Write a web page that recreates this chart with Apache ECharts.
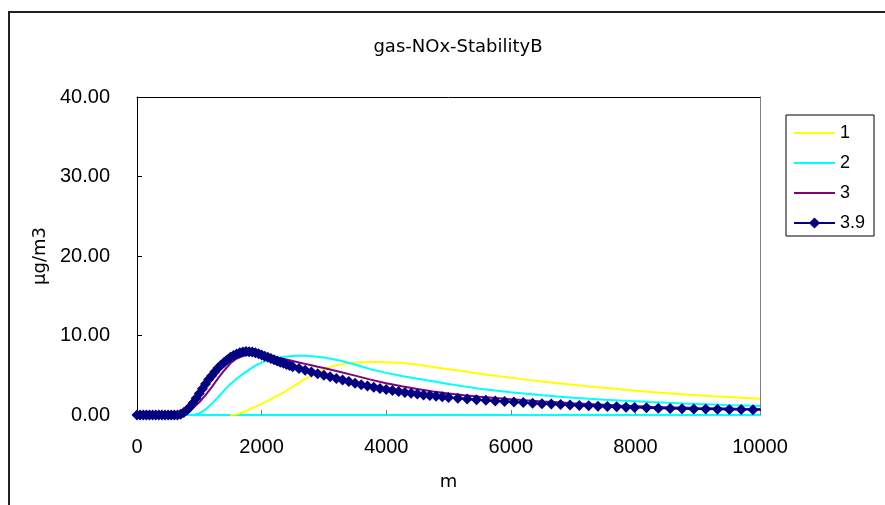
<!DOCTYPE html>
<html>
<head>
<meta charset="utf-8">
<script src="https://cdn.jsdelivr.net/npm/echarts@6/dist/echarts.min.js"></script>
<style>
  html, body { margin: 0; padding: 0; background: #fff; }
  #chart { width: 885px; height: 505px; }
</style>
</head>
<body>
<div id="chart"></div>
<script>
// Ground-level NOx concentration (μg/m3) against downwind distance (m), stability class B,
// one curve per wind-speed case.
const chartTitle = 'gas-NOx-StabilityB';
const seriesNames = ['1', '2', '3', '3.9'];
const xTicks = { min: 0, max: 10000, interval: 2000 };
const yTicks = { min: 0, max: 40, interval: 10 };

// Case "1"
const dist1 = [1500, 1600, 1700, 1800, 1900, 2000, 2100, 2200, 2300, 2400,
  2500, 2600, 2700, 2800, 2900, 3000, 3100, 3200, 3300, 3400,
  3500, 3600, 3700, 3800, 3900, 4000, 4250, 4500, 4750, 5000,
  5250, 5500, 5750, 6000, 6250, 6500, 6750, 7000, 7250, 7500,
  7750, 8000, 8250, 8500, 8750, 9000, 9250, 9500, 9750, 10000];
const conc1 = [0, 0.1, 0.35, 0.7, 1.05, 1.4, 1.78, 2.2, 2.6, 3.05,
  3.55, 4.05, 4.55, 5.0, 5.4, 5.75, 6.05, 6.25, 6.4, 6.5,
  6.57, 6.62, 6.65, 6.67, 6.67, 6.65, 6.55, 6.35, 6.05, 5.75,
  5.5, 5.2, 4.95, 4.7, 4.45, 4.2, 4.0, 3.8, 3.6, 3.42,
  3.25, 3.05, 2.9, 2.75, 2.6, 2.48, 2.36, 2.25, 2.15, 2.05];

// Case "2"
const dist2 = [900, 1000, 1100, 1200, 1300, 1400, 1500, 1600, 1700, 1800,
  1900, 2000, 2100, 2200, 2300, 2400, 2500, 2600, 2700, 2800,
  2900, 3000, 3250, 3500, 3750, 4000, 4250, 4500, 4750, 5000,
  5250, 5500, 5750, 6000, 6250, 6500, 6750, 7000, 7250, 7500,
  7750, 8000, 8250, 8500, 8750, 9000, 9250, 9500, 9750, 10000];
const conc2 = [0, 0.2, 0.7, 1.4, 2.2, 3.1, 3.9, 4.55, 5.15, 5.7,
  6.2, 6.6, 6.9, 7.12, 7.27, 7.37, 7.43, 7.45, 7.45, 7.4,
  7.33, 7.22, 6.85, 6.35, 5.75, 5.3, 4.9, 4.55, 4.25, 3.9,
  3.6, 3.3, 3.07, 2.86, 2.66, 2.48, 2.32, 2.18, 2.05, 1.93,
  1.82, 1.72, 1.62, 1.53, 1.45, 1.38, 1.31, 1.24, 1.18, 1.12];

// Case "3"
const dist3 = [600, 700, 800, 900, 1000, 1100, 1200, 1300, 1400, 1500,
  1600, 1700, 1800, 1900, 2000, 2100, 2200, 2300, 2400, 2500,
  2600, 2700, 2800, 2900, 3000, 3250, 3500, 3750, 4000, 4250,
  4500, 4750, 5000, 5250, 5500, 5750, 6000, 6250, 6500, 6750,
  7000, 7250, 7500, 7750, 8000, 8250, 8500, 8750, 9000, 9250,
  9500, 9750, 10000];
const conc3 = [0, 0.05, 0.35, 0.9, 1.6, 2.5, 3.5, 4.6, 5.6, 6.5,
  7.1, 7.45, 7.65, 7.7, 7.65, 7.5, 7.33, 7.15, 6.97, 6.79,
  6.61, 6.43, 6.25, 6.07, 5.9, 5.45, 4.95, 4.45, 4.0, 3.62,
  3.28, 2.97, 2.7, 2.48, 2.3, 2.13, 1.98, 1.84, 1.71, 1.59,
  1.48, 1.38, 1.29, 1.2, 1.12, 1.05, 0.99, 0.94, 0.89, 0.85,
  0.81, 0.77, 0.74];

// Case "3.9" (computed on a finer grid near the source)
const dist39 = [0, 50, 100, 150, 200, 250, 300, 350, 400, 450,
  500, 550, 600, 650, 700, 750, 800, 850, 900, 950,
  1000, 1050, 1100, 1150, 1200, 1250, 1300, 1350, 1400, 1450,
  1500, 1550, 1600, 1650, 1700, 1750, 1800, 1850, 1900, 1950,
  2000, 2050, 2100, 2150, 2200, 2250, 2300, 2350, 2400, 2450,
  2500, 2600, 2700, 2800, 2900, 3000, 3100, 3200, 3300, 3400,
  3500, 3600, 3700, 3800, 3900, 4000, 4100, 4200, 4300, 4400,
  4500, 4600, 4700, 4800, 4900, 5000, 5150, 5300, 5450, 5600,
  5750, 5900, 6050, 6200, 6350, 6500, 6650, 6800, 6950, 7100,
  7250, 7400, 7550, 7700, 7850, 7988, 8178, 8368, 8558, 8748,
  8938, 9128, 9318, 9508, 9698, 9888, 10078];
const conc39 = [0, 0, 0, 0, 0, 0, 0, 0, 0, 0,
  0, 0, 0, 0, 0.1, 0.3, 0.6, 1.0, 1.5, 2.1,
  2.7, 3.3, 3.9, 4.45, 4.95, 5.45, 5.9, 6.3, 6.65, 6.95,
  7.25, 7.48, 7.68, 7.83, 7.93, 7.98, 7.97, 7.92, 7.84, 7.72,
  7.55, 7.4, 7.25, 7.1, 6.95, 6.8, 6.65, 6.5, 6.36, 6.22,
  6.08, 5.85, 5.62, 5.4, 5.2, 5.0, 4.8, 4.6, 4.4, 4.2,
  4.0, 3.82, 3.65, 3.49, 3.34, 3.2, 3.07, 2.95, 2.84, 2.73,
  2.63, 2.53, 2.44, 2.36, 2.28, 2.2, 2.1, 2.0, 1.92, 1.84,
  1.77, 1.7, 1.63, 1.56, 1.49, 1.43, 1.37, 1.31, 1.26, 1.21,
  1.16, 1.11, 1.07, 1.03, 0.99, 0.95, 0.9, 0.86, 0.83, 0.8,
  0.77, 0.74, 0.72, 0.7, 0.68, 0.66, 0.64];

const pairs = (xs, ys) => xs.map((x, i) => [x, ys[i]]);

const chart = echarts.init(document.getElementById('chart'), null, { renderer: 'canvas' });

const gridBox = { left: 137, top: 97, right: 125, bottom: 90 };
const tickFont = { fontFamily: 'Liberation Sans, Arial, sans-serif', fontSize: 20, color: '#000' };
// thin horizontal bar used as the legend key of the plain lines
const lineKey = 'path://M0,0H41V2H0Z';

const plainLine = (name, data, color) => ({
  name,
  type: 'line',
  data,
  symbol: 'none',
  lineStyle: { color, width: 2 },
  itemStyle: { color },
  emphasis: { disabled: true },
  animation: false
});

chart.setOption({
  animation: false,
  backgroundColor: '#fff',
  title: {
    text: chartTitle,
    left: 453,
    top: 33,
    textAlign: 'center',
    textStyle: { fontFamily: 'DejaVu Sans, sans-serif', fontSize: 18, fontWeight: 'normal', color: '#000' }
  },
  grid: gridBox,
  legend: {
    orient: 'vertical',
    left: 786,
    top: 115,
    padding: [9, 9, 4, 7],
    itemWidth: 41,
    itemHeight: 14,
    itemGap: 12,
    borderColor: '#000',
    borderWidth: 1,
    backgroundColor: '#fff',
    textStyle: { fontFamily: 'Liberation Sans, Arial, sans-serif', fontSize: 18, lineHeight: 18, color: '#000' },
    data: [
      { name: seriesNames[0], icon: lineKey },
      { name: seriesNames[1], icon: lineKey },
      { name: seriesNames[2], icon: lineKey },
      { name: seriesNames[3] }
    ]
  },
  xAxis: [{
    type: 'value',
    min: xTicks.min,
    max: xTicks.max,
    interval: xTicks.interval,
    name: 'm',
    nameLocation: 'middle',
    nameGap: 58,
    nameTextStyle: { fontFamily: 'DejaVu Sans, sans-serif', fontSize: 18, color: '#000' },
    axisLine: { show: true, onZero: false, lineStyle: { color: '#00FFFF', width: 2 } },
    axisTick: { show: true, inside: true, length: 5, lineStyle: { color: '#808080', width: 1 } },
    axisLabel: Object.assign({ margin: 22, formatter: v => String(v) }, tickFont),
    splitLine: { show: false }
  }, {
    type: 'value',
    position: 'top',
    min: xTicks.min,
    max: xTicks.max,
    axisLine: { show: true, onZero: false, lineStyle: { color: '#000', width: 1 } },
    axisTick: { show: false },
    axisLabel: { show: false },
    splitLine: { show: false }
  }],
  yAxis: [{
    type: 'value',
    min: yTicks.min,
    max: yTicks.max,
    interval: yTicks.interval,
    name: 'μg/m3',
    nameLocation: 'middle',
    nameGap: 85,
    nameRotate: 90,
    nameTextStyle: { fontFamily: 'DejaVu Sans, sans-serif', fontSize: 18, color: '#000' },
    axisLine: { show: true, onZero: false, lineStyle: { color: '#000', width: 1 } },
    axisTick: { show: true, inside: true, length: 5, lineStyle: { color: '#000', width: 1 } },
    axisLabel: Object.assign({ margin: 27, formatter: v => v.toFixed(2) }, tickFont),
    splitLine: { show: false }
  }, {
    type: 'value',
    position: 'right',
    min: yTicks.min,
    max: yTicks.max,
    axisLine: { show: true, onZero: false, lineStyle: { color: '#808080', width: 1 } },
    axisTick: { show: false },
    axisLabel: { show: false },
    splitLine: { show: false }
  }],
  graphic: [{
    type: 'rect',
    silent: true,
    z: -10,
    shape: { x: 9, y: 12, width: 900, height: 600 },
    style: { fill: 'none', stroke: '#222', lineWidth: 2 }
  }],
  series: [
    plainLine(seriesNames[0], pairs(dist1, conc1), '#FFFF00'),
    plainLine(seriesNames[1], pairs(dist2, conc2), '#00FFFF'),
    plainLine(seriesNames[2], pairs(dist3, conc3), '#800080'),
    {
      name: seriesNames[3],
      type: 'line',
      data: pairs(dist39, conc39),
      symbol: 'diamond',
      symbolSize: 11,
      showAllSymbol: true,
      lineStyle: { color: '#000080', width: 2 },
      itemStyle: { color: '#000080' },
      emphasis: { disabled: true },
      animation: false
    }
  ]
});
</script>
</body>
</html>
